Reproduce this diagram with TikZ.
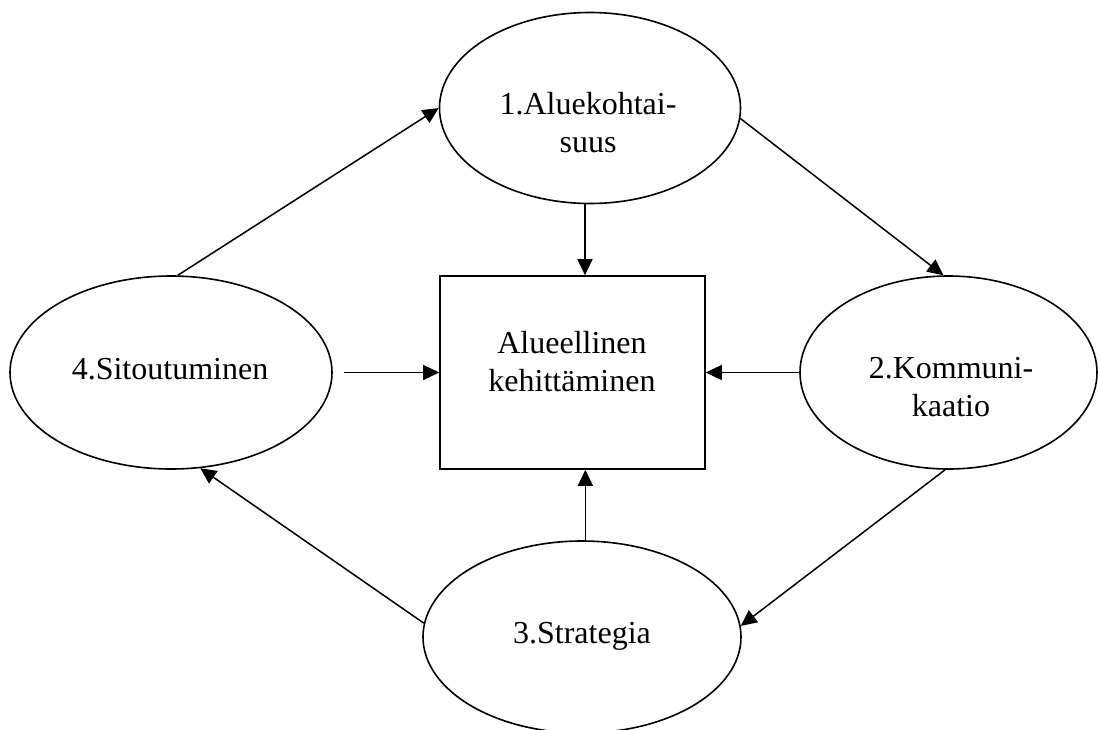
\documentclass[tikz,border=0pt]{standalone}
\usepackage{fontspec}
\setmainfont{Liberation Serif}
\usetikzlibrary{shapes.geometric,arrows.meta}
\tikzset{
  ell/.style={draw, ellipse, line width=1.6pt, inner sep=0pt},
  box/.style={draw, rectangle, line width=1.6pt, inner sep=0pt},
  lbl/.style={align=center, inner sep=0pt, anchor=base,
    font=\fontsize{32}{37.5}\selectfont},
  arr/.style={line width=1.5pt, -{Triangle[length=16pt,width=15pt]}}
}
\begin{document}
\begin{tikzpicture}[x=1pt,y=-1pt]
\useasboundingbox (0,0) rectangle (1098,729);
% shapes
\node[ell, minimum width=301pt, minimum height=191pt] (top) at (590,108) {};
\node[ell, minimum width=322pt, minimum height=193pt] (left) at (171,372.5) {};
\node[ell, minimum width=297pt, minimum height=193pt] (right) at (948.5,372.5) {};
\node[ell, minimum width=318pt, minimum height=192pt] (bot) at (582,637) {};
\node[box, minimum width=265pt, minimum height=193pt] (rect) at (572.5,372.5) {};
% texts (base = baseline of last line)
\node[lbl] (ttop) at (588,152) {1.Aluekohtai-\\suus};
\node[lbl] (tright) at (951,416) {2.Kommuni-\\kaatio};
\node[lbl] (tleft) at (170,379) {4.Sitoutuminen};
\node[lbl] (tbot) at (582,643) {3.Strategia};
\node[lbl] (trect) at (572,391) {Alueellinen\\kehittäminen};
% connectors
\draw[arr] (top.-4.6) -- (right.93.2);
\draw[arr] (right.-92) -- (bot.4.6);
\draw[arr] (bot.175.4) -- (left.-73.4);
\draw[arr] (left.86.4) -- (top.180.8);
\draw[arr] (top.-93.6) -- (top.-93.6 |- rect.north);
\draw[arr] (bot.88.8) -- (bot.88.8 |- rect.south);
\draw[arr, shorten <=11pt] (left.east) -- (rect.west);
\draw[arr] (right.west) -- (rect.east);
\end{tikzpicture}
\end{document}
